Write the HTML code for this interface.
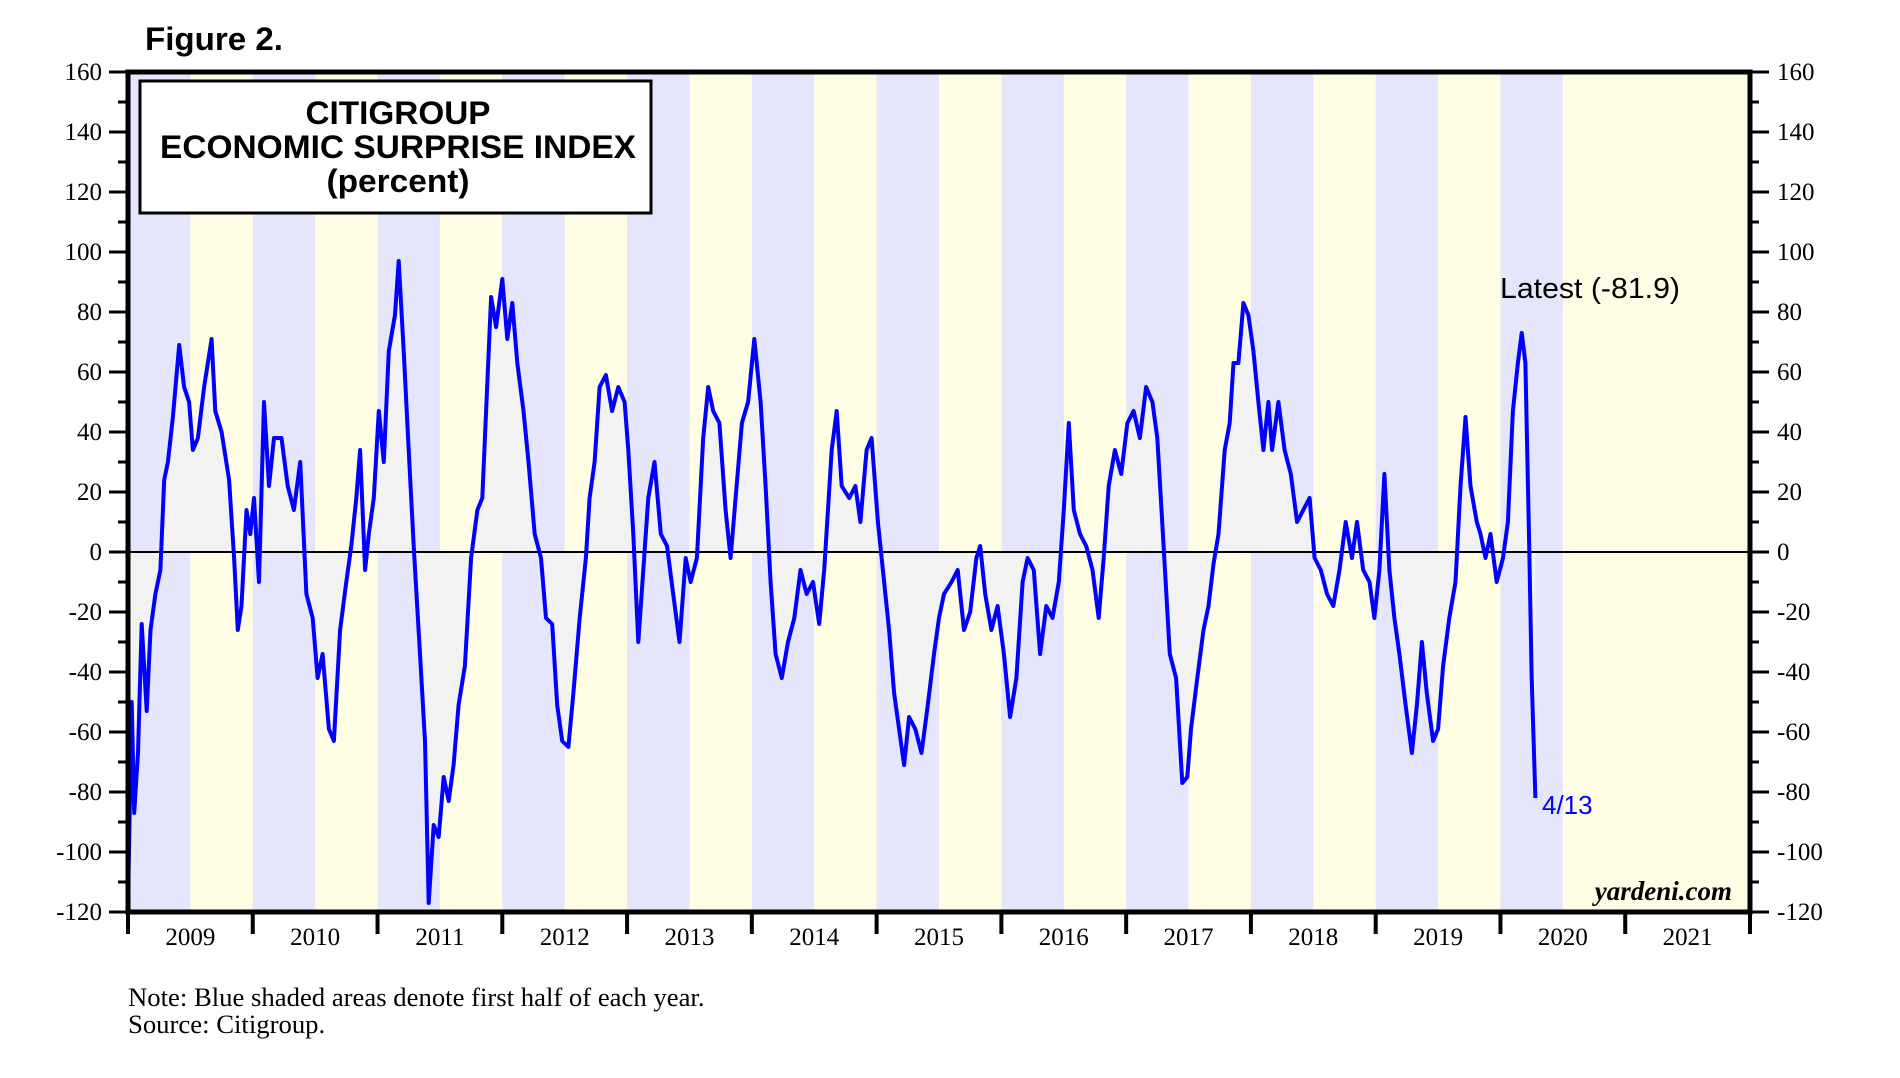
<!DOCTYPE html>
<html><head><meta charset="utf-8"><style>
html,body{margin:0;padding:0;background:#fff}
svg{display:block}
.tm{font-family:"Liberation Serif",serif;font-size:25px;fill:#000}
.ar{font-family:"Liberation Sans",sans-serif}
</style></head><body>
<svg id="chart" width="1900" height="1078" viewBox="0 0 1900 1078" xmlns="http://www.w3.org/2000/svg">
<g id="bands"></g>
<path id="fill" fill="#f2f2f2"/>
<line x1="128" x2="1750" y1="552" y2="552" stroke="#000" stroke-width="2"/>
<path id="line" fill="none" stroke="#0000ff" stroke-width="4" stroke-linejoin="round"/>
<rect x="128" y="72" width="1622" height="840" fill="none" stroke="#000" stroke-width="5"/>
<g id="yaxes"></g>
<g id="xaxis"></g>
<text x="145" y="50" class="ar" font-size="32" font-weight="bold" textLength="138" lengthAdjust="spacingAndGlyphs">Figure 2.</text>
<rect x="140" y="81" width="511" height="132" fill="#fff" stroke="#000" stroke-width="3"/>
<g class="ar" font-size="32" font-weight="bold" text-anchor="middle">
<text x="398" y="124" textLength="185" lengthAdjust="spacingAndGlyphs">CITIGROUP</text>
<text x="398" y="158" textLength="476" lengthAdjust="spacingAndGlyphs">ECONOMIC SURPRISE INDEX</text>
<text x="398" y="192" textLength="143" lengthAdjust="spacingAndGlyphs">(percent)</text>
</g>
<text x="1500" y="298" class="ar" font-size="29" textLength="180" lengthAdjust="spacingAndGlyphs">Latest (-81.9)</text>
<text x="1542" y="814" class="ar" font-size="26" fill="#0000ff">4/13</text>
<text x="1732" y="900" font-family="Liberation Serif,serif" font-style="italic" font-weight="bold" font-size="27" text-anchor="end">yardeni.com</text>
<text x="128" y="1006" class="tm" font-size="26.7" style="font-size:26.7px">Note: Blue shaded areas denote first half of each year.</text>
<text x="128" y="1033" class="tm" style="font-size:26.7px">Source: Citigroup.</text>
</svg>
<script>
const years=[2009,2010,2011,2012,2013,2014,2015,2016,2017,2018,2019,2020,2021];
const shadedYears=[2009,2010,2011,2012,2013,2014,2015,2016,2017,2018,2019,2020];
const yTicks=[160,140,120,100,80,60,40,20,0,-20,-40,-60,-80,-100,-120];
const dates=[2009.00,2009.03,2009.05,2009.08,2009.11,2009.15,2009.18,2009.22,2009.26,2009.29,2009.32,2009.36,2009.41,2009.45,2009.49,2009.52,2009.56,2009.61,2009.67,2009.70,2009.75,2009.81,2009.85,2009.88,2009.91,2009.95,2009.98,
2010.01,2010.05,2010.09,2010.13,2010.17,2010.23,2010.28,2010.33,2010.38,2010.43,2010.48,2010.52,2010.56,2010.61,2010.65,2010.70,2010.75,2010.79,2010.83,2010.86,2010.90,2010.93,2010.97,
2011.01,2011.05,2011.09,2011.14,2011.17,2011.21,2011.25,2011.29,2011.34,2011.38,2011.41,2011.45,2011.49,2011.53,2011.57,2011.61,2011.65,2011.70,2011.75,2011.80,2011.84,2011.87,2011.91,2011.95,
2012.00,2012.04,2012.08,2012.12,2012.17,2012.21,2012.26,2012.31,2012.35,2012.40,2012.44,2012.48,2012.53,2012.57,2012.62,2012.67,2012.70,2012.74,2012.78,2012.83,2012.88,2012.93,2012.98,
2013.01,2013.05,2013.09,2013.13,2013.17,2013.22,2013.27,2013.32,2013.37,2013.42,2013.47,2013.51,2013.56,2013.61,2013.65,2013.69,2013.74,2013.79,2013.83,2013.87,2013.92,2013.97,
2014.02,2014.07,2014.11,2014.15,2014.19,2014.24,2014.29,2014.34,2014.39,2014.44,2014.49,2014.54,2014.58,2014.64,2014.68,2014.72,2014.78,2014.83,2014.87,2014.92,2014.96,
2015.01,2015.05,2015.10,2015.14,2015.18,2015.22,2015.26,2015.31,2015.36,2015.41,2015.46,2015.50,2015.54,2015.60,2015.65,2015.70,2015.75,2015.80,2015.83,2015.87,2015.92,2015.97,
2016.02,2016.07,2016.12,2016.17,2016.21,2016.26,2016.31,2016.36,2016.41,2016.46,2016.50,2016.54,2016.58,2016.63,2016.68,2016.73,2016.78,2016.82,2016.86,2016.91,2016.96,
2017.01,2017.06,2017.11,2017.16,2017.21,2017.25,2017.30,2017.35,2017.40,2017.45,2017.49,2017.52,2017.57,2017.62,2017.66,2017.70,2017.74,2017.79,2017.83,2017.86,2017.90,2017.94,2017.98,
2018.02,2018.06,2018.10,2018.14,2018.17,2018.22,2018.27,2018.32,2018.37,2018.42,2018.47,2018.51,2018.56,2018.61,2018.66,2018.71,2018.76,2018.81,2018.85,2018.90,2018.95,2018.99,
2019.03,2019.07,2019.11,2019.15,2019.19,2019.24,2019.29,2019.33,2019.37,2019.41,2019.46,2019.50,2019.54,2019.59,2019.64,2019.68,2019.72,2019.76,2019.81,2019.84,2019.88,2019.92,2019.97,
2020.02,2020.06,2020.10,2020.14,2020.17,2020.20,2020.23,2020.25,2020.28];
const values=[-118,-50,-87,-67,-24,-53,-26,-14,-6,24,30,45,69,55,50,34,38,55,71,47,40,24,-2,-26,-18,14,6,
18,-10,50,22,38,38,22,14,30,-14,-22,-42,-34,-59,-63,-26,-10,2,18,34,-6,6,
18,47,30,67,79,97,67,34,2,-34,-63,-117,-91,-95,-75,-83,-71,-51,-38,-2,14,18,47,85,75,
91,71,83,63,47,30,6,-2,-22,-24,-51,-63,-65,-47,-22,-2,18,30,55,59,47,55,50,
34,6,-30,-6,18,30,6,2,-14,-30,-2,-10,-2,38,55,47,43,14,-2,18,43,50,
71,50,22,-10,-34,-42,-30,-22,-6,-14,-10,-24,-6,34,47,22,18,22,10,34,38,
10,-6,-26,-47,-59,-71,-55,-59,-67,-51,-34,-22,-14,-10,-6,-26,-20,-2,2,-14,-26,-18,
-34,-55,-42,-10,-2,-6,-34,-18,-22,-10,14,43,14,6,2,-6,-22,-2,22,34,26,
43,47,38,55,50,38,2,-34,-42,-77,-75,-59,-42,-26,-18,-4,6,34,43,63,63,83,79,
67,50,34,50,34,50,34,26,10,14,18,-2,-6,-14,-18,-6,10,-2,10,-6,-10,-22,
-6,26,-6,-22,-34,-51,-67,-51,-30,-47,-63,-59,-38,-22,-10,22,45,22,10,6,-2,6,-10,
-2,10,47,63,73,63,2,-42,-82];
const L=128,R=1750,T=72,B=912;
const xS=d=>L+(d-2009)*(R-L)/13;
const yS=v=>T+(160-v)*(B-T)/280;
const NS='http://www.w3.org/2000/svg';
function mk(tag,attrs,parent){const e=document.createElementNS(NS,tag);for(const k in attrs)e.setAttribute(k,attrs[k]);parent.appendChild(e);return e;}
const bands=document.getElementById('bands');
const bg=mk('rect',{x:L,y:T,width:R-L,height:B-T,fill:'#fffee4'},bands);


shadedYears.forEach(y=>{
 const b1=mk('rect',{x:xS(y),y:T,width:xS(y+0.5)-xS(y),height:B-T,fill:'#e5e5fc'},bands);
 
 
});
let d='';dates.forEach((t,i)=>{d+=(i?'L':'M')+xS(t).toFixed(1)+','+yS(values[i]).toFixed(1);});
document.getElementById('line').setAttribute('d',d);
const z=yS(0);
document.getElementById('fill').setAttribute('d','M'+xS(dates[0]).toFixed(1)+','+z+d.replace(/^M/,'L')+'L'+xS(dates[dates.length-1]).toFixed(1)+','+z+'Z');
const ya=document.getElementById('yaxes');
for(let v=160;v>=-120;v-=10){
 const y=yS(v),maj=v%20===0;
 const t1=mk('line',{x1:maj?109:118,x2:128,y1:y,y2:y,stroke:'#000','stroke-width':3},ya);
 
 
 const t2=mk('line',{x1:1750,x2:maj?1769:1759,y1:y,y2:y,stroke:'#000','stroke-width':3},ya);
 
 
}
yTicks.forEach(v=>{
 const a=mk('text',{x:102,y:yS(v)+8,'text-anchor':'end',class:'tm'},ya);a.textContent=v;
 
 
 const b=mk('text',{x:1777,y:yS(v)+8,class:'tm'},ya);b.textContent=v;
 
 
});
const xa=document.getElementById('xaxis');
for(let y=2009;y<=2022;y++){
 const t=mk('line',{x1:xS(y),x2:xS(y),y1:B,y2:934,stroke:'#000','stroke-width':4},xa);
 
 
}
years.forEach(y=>{
 const t=mk('text',{x:xS(y+0.5),y:945,'text-anchor':'middle',class:'tm'},xa);t.textContent=y;
 
 
});
</script>
</body></html>
